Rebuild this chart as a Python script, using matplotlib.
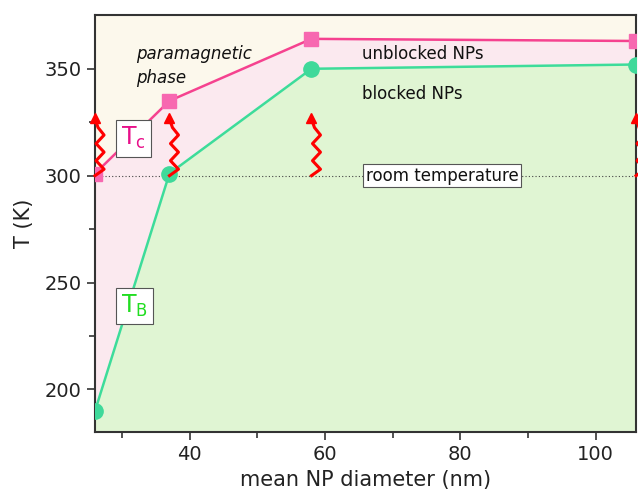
import numpy as np
import matplotlib
matplotlib.use("Agg")
import matplotlib.pyplot as plt

diameter = [26, 37, 58, 106]
t_curie = [301, 335, 364, 363]
t_block = [190, 301, 350, 352]
room_temp = 300
arrow_x = [26, 37, 58, 106]

plt.rcParams['font.family'] = ['DejaVu Sans']
fig = plt.figure(figsize=(6.38, 4.95), dpi=100)
ax = fig.add_axes([0.149, 0.127, 0.848, 0.842])

ymin, ymax = 180, 375
xmin, xmax = 26, 106
ax.set_xlim(xmin, xmax)
ax.set_ylim(ymin, ymax)

# background regions
ax.fill_between(diameter, t_curie, ymax, color='#fcf8ec', lw=0, zorder=0)
ax.fill_between(diameter, t_block, t_curie, color='#fbe9ef', lw=0, zorder=0)
ax.fill_between(diameter, ymin, t_block, color='#e0f5d3', lw=0, zorder=0)

ax.axhline(room_temp, color='#444444', lw=0.8, ls=(0, (1, 2)), zorder=1)

ax.plot(diameter, t_curie, color='#f5428f', lw=1.8, marker='s', ms=10,
        mfc='#f768b0', mec='#f768b0', zorder=3)
ax.plot(diameter, t_block, color='#3ddc9a', lw=1.8, marker='o', ms=11,
        mfc='#3fd99a', mec='#3fd99a', zorder=3)

# wavy red arrows (zigzag + head), offsets in pixels / kelvin
px = 20 / 135.0
zig = np.array([0, 9, 1, 9, 1, 9, 3, 1.5, 0])
zy = np.array([0, 3, 7, 11, 15, 19, 22.5, 24.5, 26])
for x0 in arrow_x:
    ax.plot(x0 + zig * px, room_temp + zy, color='red', lw=2.2, zorder=4,
            clip_on=False, solid_joinstyle='round')
    ax.plot(x0 - 0.5 * px, room_temp + 27, marker='^', ms=7, color='red',
            mec='red', zorder=4, clip_on=False)

ax.text(32.0, 361, 'paramagnetic\nphase', style='italic', fontsize=12,
        va='top', ha='left', linespacing=1.4, color='#111111')
ax.text(65.5, 357, 'unblocked NPs', fontsize=12, va='center', ha='left', color='#111111')
ax.text(65.5, 338, 'blocked NPs', fontsize=12, va='center', ha='left', color='#111111')
ax.text(66.0, room_temp, 'room temperature', fontsize=12, va='center', ha='left',
        color='#111111',
        bbox=dict(boxstyle='square,pad=0.15', fc='white', ec='#555555', lw=0.8))
ax.text(29.9, 317.5, r'T$_{\mathregular{c}}$', fontsize=17, va='center', ha='left',
        color='#e8108a',
        bbox=dict(boxstyle='square,pad=0.22', fc='white', ec='#555555', lw=0.8))
ax.text(29.9, 239, r'T$_{\mathregular{B}}$', fontsize=17, va='center', ha='left',
        color='#22dd22',
        bbox=dict(boxstyle='square,pad=0.22', fc='white', ec='#555555', lw=0.8))

ax.set_xticks([40, 60, 80, 100])
ax.set_xticks([30, 50, 70, 90], minor=True)
ax.set_yticks([200, 250, 300, 350])
ax.set_yticks([225, 275, 325], minor=True)
ax.tick_params(which='major', direction='out', length=6, width=1.2, labelsize=14,
               color='#333333', labelcolor='#222222')
ax.tick_params(which='minor', direction='out', length=4, width=1.2, color='#333333')
for s in ax.spines.values():
    s.set_color('#333333')
    s.set_linewidth(1.5)

ax.set_xlabel('mean NP diameter (nm)', fontsize=15, color='#222222', labelpad=4)
ax.set_ylabel('T (K)', fontsize=15, color='#222222', labelpad=8)

fig.savefig('out.png', dpi=100)
